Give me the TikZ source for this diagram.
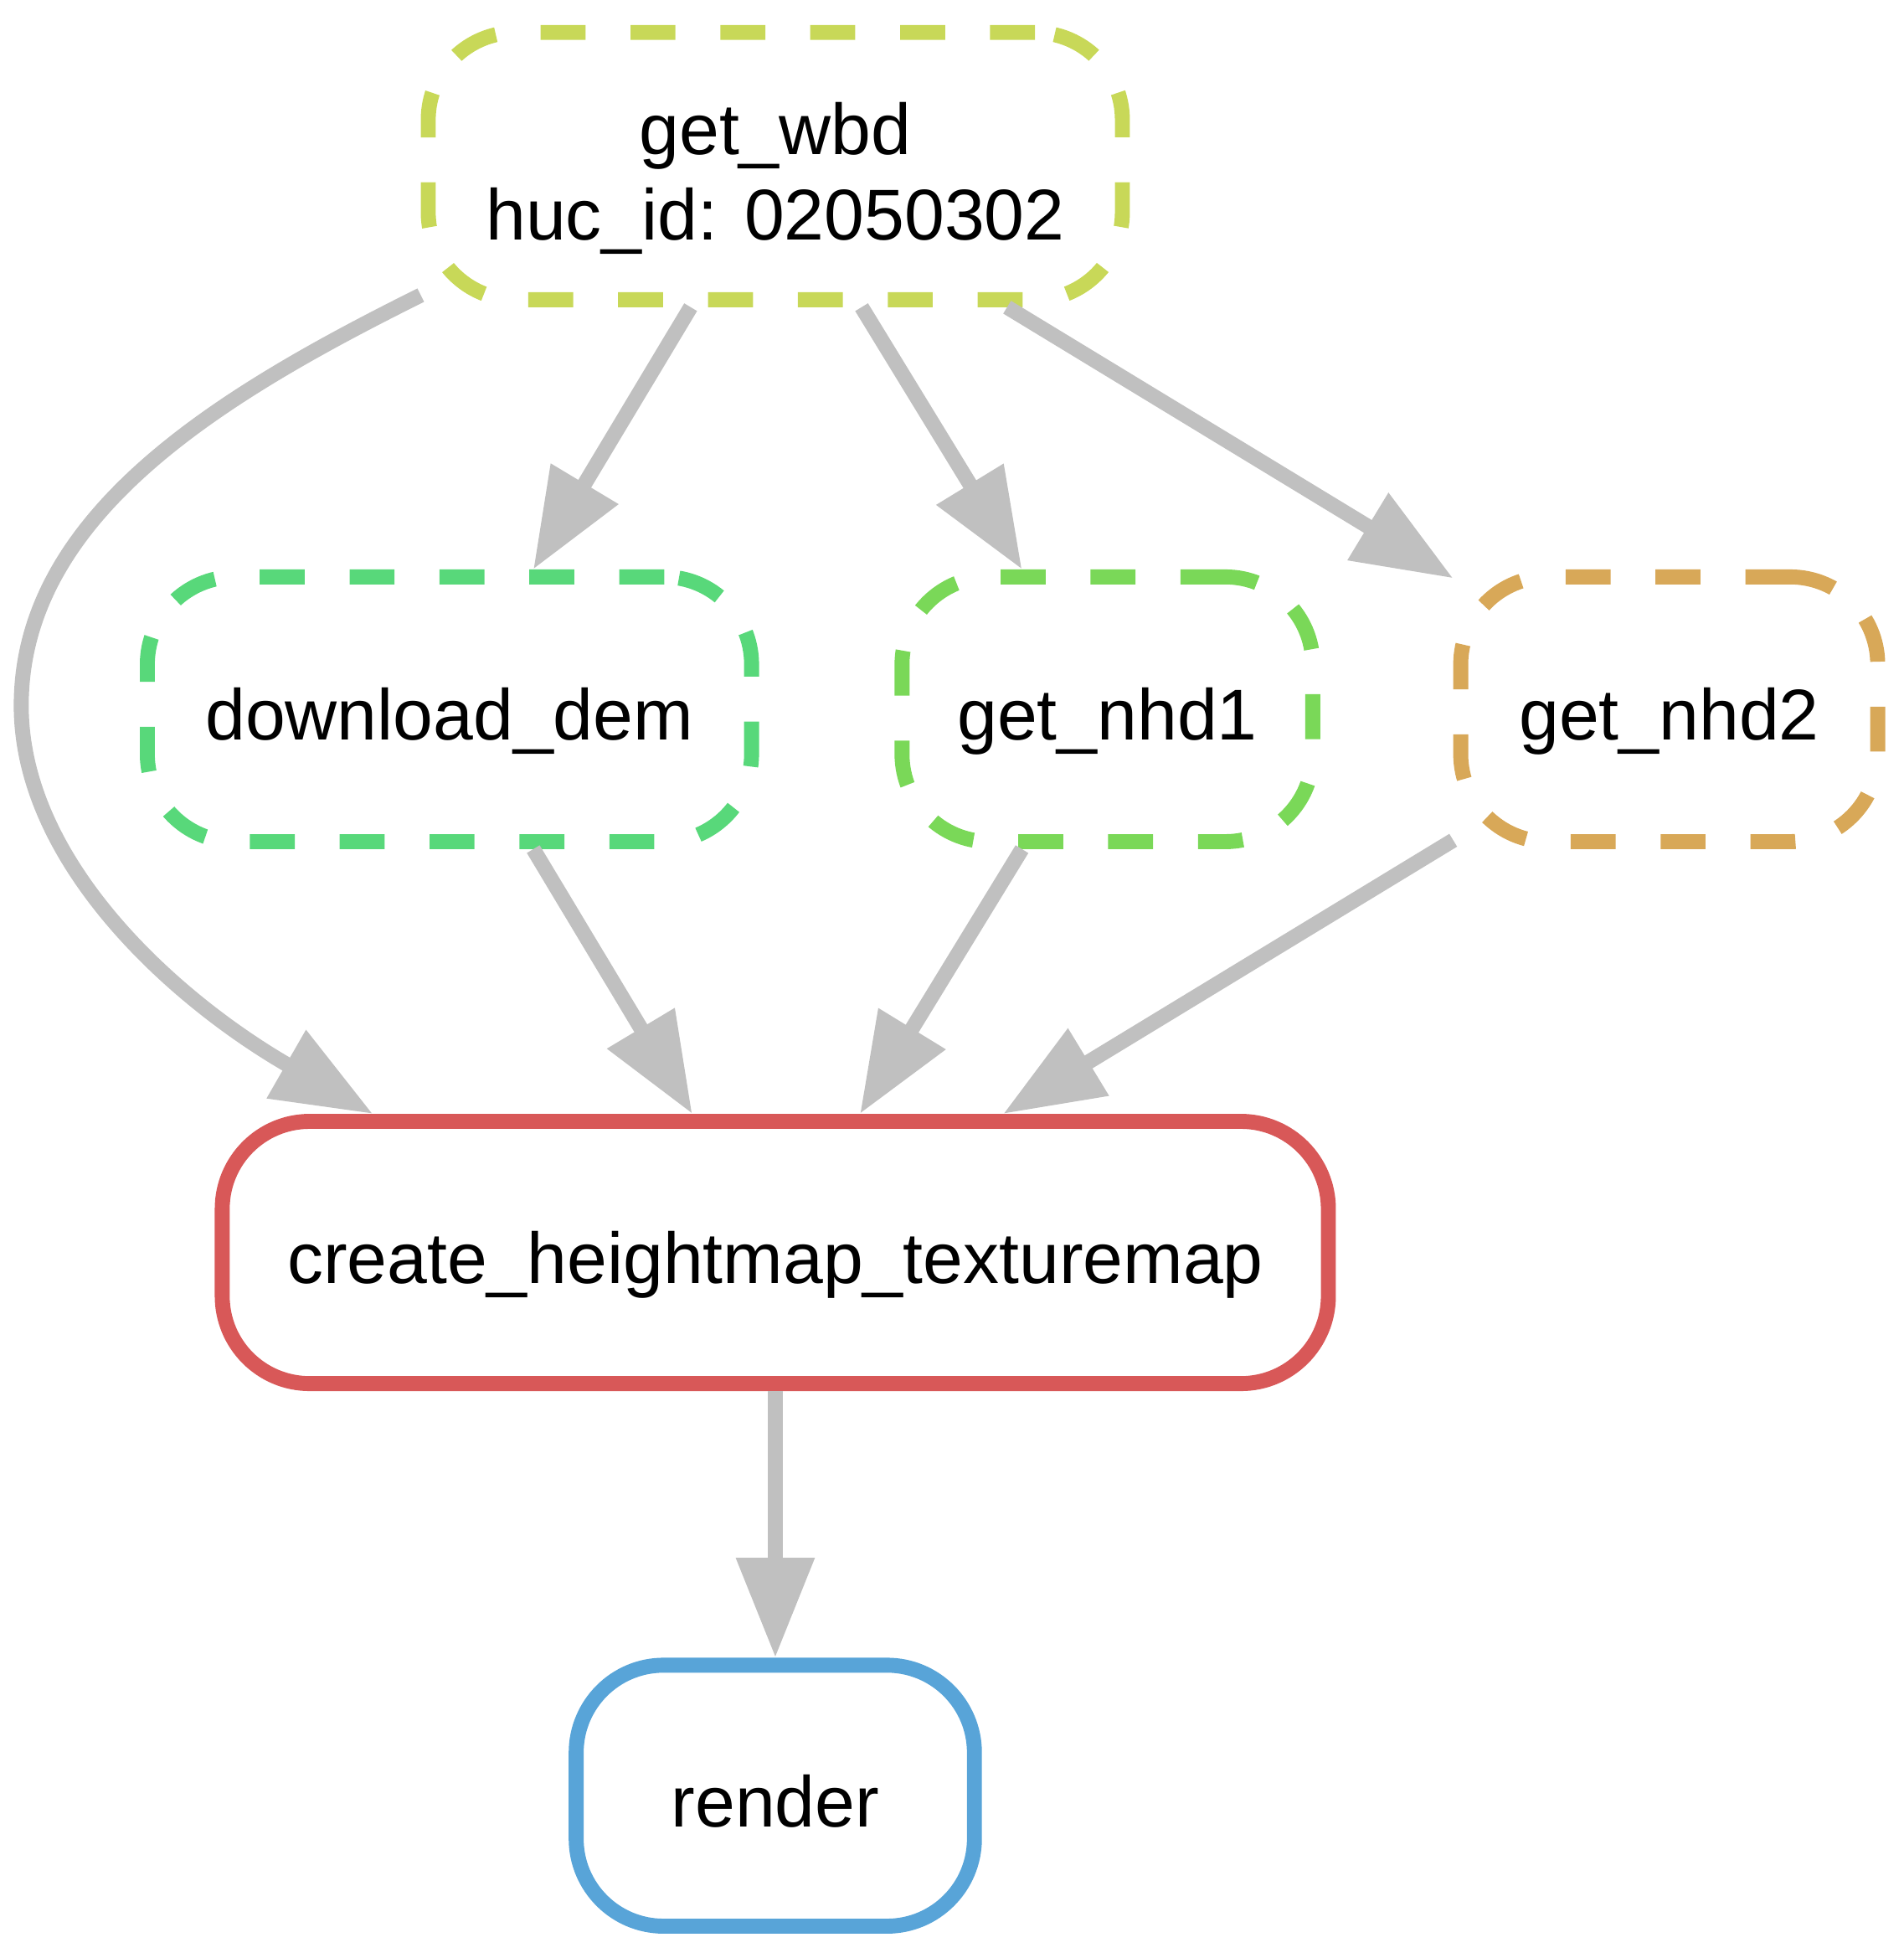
\documentclass[tikz,border=0pt]{standalone}
\usepackage{fontspec}
\setmainfont{Liberation Sans}
\usetikzlibrary{arrows.meta}
\definecolor{wbdcol}{RGB}{200,216,88}
\definecolor{demcol}{RGB}{88,216,122}
\definecolor{nhdonecol}{RGB}{122,216,88}
\definecolor{nhdtwocol}{RGB}{216,168,88}
\definecolor{hmcol}{RGB}{216,88,88}
\definecolor{rendercol}{RGB}{88,164,216}
\definecolor{depgray}{RGB}{192,192,192}

\begin{document}
\begin{tikzpicture}[
		job/.style={draw, rounded corners=0.7cm, line width=0.12cm, align=center, inner sep=0pt,
			font=\fontsize{16.4}{19.4}\selectfont, text height=17.5pt, text depth=3.4pt},
		pending/.style={job, dash pattern=on 0.36cm off 0.36cm},
		dep/.style={draw=depgray, line width=0.12cm, -{Triangle[length=0.8cm,width=0.6cm]}}
	]
		%%%%% START %%%%%
		
		\useasboundingbox (0, 0) rectangle (15.25, -15.68);
		
		\node[pending, draw=wbdcol, minimum width=5.56cm, minimum height=2.14cm,
			text height=36.9pt] (wbd) at (6.21, -1.33) {get\_wbd\\huc\_id: 02050302};
		
		\node[pending, draw=demcol, minimum width=4.84cm, minimum height=2.12cm] (dem) at (3.60, -5.68) {download\_dem};
		\node[pending, draw=nhdonecol, minimum width=3.29cm, minimum height=2.12cm] (nhdone) at (8.87, -5.68) {get\_nhd1};
		\node[pending, draw=nhdtwocol, minimum width=3.34cm, minimum height=2.12cm] (nhdtwo) at (13.37, -5.68) {get\_nhd2};
		
		\node[job, draw=hmcol, minimum width=8.86cm, minimum height=2.10cm] (hm) at (6.21, -10.03) {create\_heightmap\_texturemap};
		\node[job, draw=rendercol, minimum width=3.19cm, minimum height=2.09cm] (render) at (6.21, -14.38) {render};
		
		\draw[dep] (wbd) -- (dem);
		\draw[dep] (wbd) -- (nhdone);
		\draw[dep] (wbd) -- (nhdtwo);
		\draw[dep] (wbd.200) .. controls (1.77, -3.16) and (0.17, -4.12) .. (0.17, -5.65)
			.. controls (0.17, -6.92) and (1.42, -8.02) .. (hm.161);
		
		\draw[dep] (dem) -- (hm);
		\draw[dep] (nhdone) -- (hm);
		\draw[dep] (nhdtwo) -- (hm);
		
		\draw[dep] (hm) -- (render);
		
		%%%%% END %%%%%
	\end{tikzpicture}
\end{document}
